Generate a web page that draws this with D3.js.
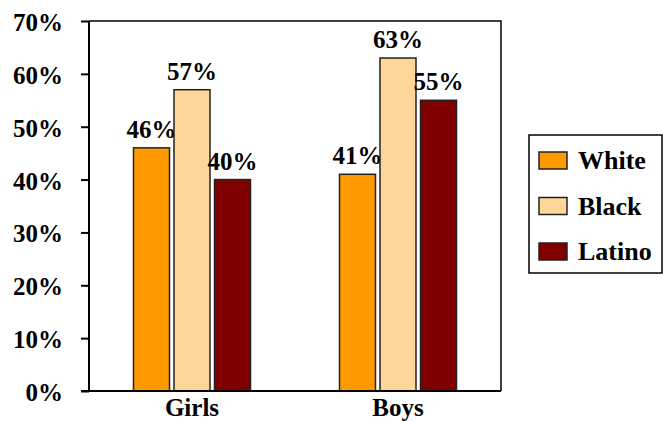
<!DOCTYPE html>
<meta charset="utf-8">
<style>
body { margin: 0; background: #fff; }
svg text { font-family: "Liberation Serif", "DejaVu Serif", serif; font-weight: bold; fill: #000; }
</style>
<svg width="663" height="421"></svg>
<script src="https://d3js.org/d3.v7.min.js"></script>
<script>

// data
var groups = ["Girls", "Boys"];
var series = ["White", "Black", "Latino"];
var white = [46, 41];
var black = [57, 63];
var latino = [40, 55];
var yTicks = [0, 10, 20, 30, 40, 50, 60, 70];

var colors = ["#FF9900", "#FFD699", "#800000"];
var values = [white, black, latino];

var serif = '"Liberation Serif", "DejaVu Serif", serif';

var svg = d3.select("svg");

// plot area edges (don't call it "top", that's window.top)
var plotLeft = 89, plotRight = 501, plotTop = 21, plotBottom = 391;

var x0 = d3.scaleBand()
  .domain(groups)
  .range([plotLeft, plotRight])
  .paddingInner(0.432)
  .paddingOuter(0.216);

var x1 = d3.scaleBand()
  .domain(series)
  .range([0, x0.bandwidth()])
  .paddingInner(0.111);

var y = d3.scaleLinear()
  .domain([0, 70])
  .range([plotBottom, plotTop]);

// frame: top and right lines
svg.append("path")
  .attr("d", "M" + plotLeft + "," + plotTop + "H" + plotRight + "V" + plotBottom)
  .attr("fill", "none")
  .attr("stroke", "#000")
  .attr("stroke-width", 1.5);

// bars
var rows = [];
groups.forEach(function(g, gi) {
  series.forEach(function(s, si) {
    rows.push({ group: g, series: s, si: si, value: values[si][gi] });
  });
});

var bar = svg.append("g").selectAll("g")
  .data(rows)
  .enter().append("g");

bar.append("rect")
  .attr("x", function(d) { return x0(d.group) + x1(d.series); })
  .attr("y", function(d) { return y(d.value); })
  .attr("width", x1.bandwidth())
  .attr("height", function(d) { return y(0) - y(d.value); })
  .attr("fill", function(d) { return colors[d.si]; })
  .attr("stroke", "#222")
  .attr("stroke-width", 1.5);

bar.append("text")
  .attr("x", function(d) { return x0(d.group) + x1(d.series) + x1.bandwidth() / 2; })
  .attr("y", function(d) { return y(d.value) - 10; })
  .attr("text-anchor", "middle")
  .style("font-family", serif)
  .style("font-size", "25px")
  .text(function(d) { return d.value + "%"; });

// y axis
var yAxis = svg.append("g")
  .attr("transform", "translate(" + plotLeft + ",0)")
  .call(d3.axisLeft(y).tickValues(yTicks).tickSize(8).tickPadding(18)
    .tickFormat(function(d) { return d + "%"; }));
yAxis.attr("font-family", null).attr("font-size", null);
yAxis.select(".domain").attr("stroke-width", 2).attr("d", "M0," + plotTop + "V" + plotBottom);
yAxis.selectAll(".tick line").attr("stroke-width", 2);
yAxis.selectAll(".tick text")
  .style("font-family", serif)
  .style("font-size", "25px")
  .attr("dy", "0.38em");

// x axis
var xAxis = svg.append("g")
  .attr("transform", "translate(0," + plotBottom + ")")
  .call(d3.axisBottom(x0).tickSize(0).tickPadding(25));
xAxis.attr("font-family", null).attr("font-size", null);
xAxis.select(".domain").attr("stroke-width", 2).attr("d", "M" + (plotLeft - 8) + ",0H" + plotRight);
xAxis.selectAll(".tick text")
  .style("font-family", serif)
  .style("font-size", "25px")
  .attr("dy", "0");

// legend
var legend = svg.append("g");
legend.append("rect")
  .attr("x", 529).attr("y", 135)
  .attr("width", 133).attr("height", 138)
  .attr("fill", "#fff")
  .attr("stroke", "#000")
  .attr("stroke-width", 1.5);

var item = legend.selectAll(".item")
  .data(series)
  .enter().append("g")
  .attr("class", "item")
  .attr("transform", function(d, i) { return "translate(539," + (152 + i * 45.5) + ")"; });

item.append("rect")
  .attr("width", 28).attr("height", 17)
  .attr("fill", function(d, i) { return colors[i]; })
  .attr("stroke", "#222")
  .attr("stroke-width", 1.5);

item.append("text")
  .attr("x", 39).attr("y", 17)
  .style("font-family", serif)
  .style("font-size", "26px")
  .text(function(d) { return d; });

</script>
